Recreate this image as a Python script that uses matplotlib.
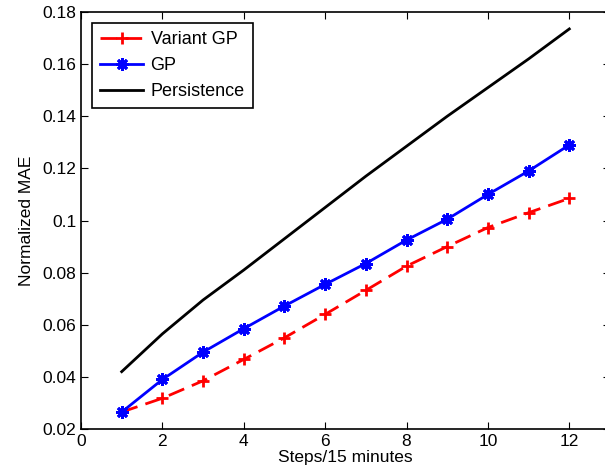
import matplotlib.pyplot as plt
import numpy as np

plt.rcParams['font.family'] = ['Liberation Sans', 'DejaVu Sans']

steps = np.arange(1, 13)
variant_gp = [0.0265, 0.0318, 0.0385, 0.0467, 0.0550, 0.0640, 0.0732, 0.0825, 0.0900, 0.0973, 0.1030, 0.1085]
gp = [0.0265, 0.0390, 0.0495, 0.0585, 0.0672, 0.0755, 0.0835, 0.0925, 0.1005, 0.1100, 0.1190, 0.1290]
persistence = [0.0420, 0.0565, 0.0695, 0.0810, 0.0930, 0.1050, 0.1170, 0.1285, 0.1400, 0.1510, 0.1620, 0.1735]

fig = plt.figure(figsize=(6.05, 4.73), dpi=100)
ax = fig.add_axes([81 / 605, 1 - 429 / 473, (610 - 81) / 605, (429 - 12) / 473])

ax.plot(steps, variant_gp, '--', color='r', lw=2, marker='+', ms=8, mew=2,
        dashes=(6, 3), label='Variant GP')
ax.plot(steps, gp, '-', color='b', lw=2, marker=(8, 2, 0), ms=9, mew=2, label='GP')
ax.plot(steps, persistence, '-', color='k', lw=2, label='Persistence')

ax.set_xlim(0, 13)
ax.set_ylim(0.02, 0.18)
ax.set_xticks(range(0, 13, 2))
ax.set_yticks(np.arange(0.02, 0.181, 0.02))
ax.set_yticklabels(['0.02', '0.04', '0.06', '0.08', '0.1', '0.12', '0.14', '0.16', '0.18'])
ax.tick_params(direction='in', top=True, right=True, labelsize=12.5, length=5, width=0.8)
for s in ax.spines.values():
    s.set_linewidth(1.2)

ax.set_xlabel('Steps/15 minutes', fontsize=12.5, labelpad=1)
ax.set_ylabel('Normalized MAE', fontsize=12.5, labelpad=6)

leg = ax.legend(loc='upper left', fontsize=13, fancybox=False, framealpha=1,
                edgecolor='k', handlelength=2.4, borderaxespad=0.6,
                labelspacing=0.5, handletextpad=0.4, borderpad=0.45)
leg.get_frame().set_linewidth(1.2)

fig.savefig('out.png')
